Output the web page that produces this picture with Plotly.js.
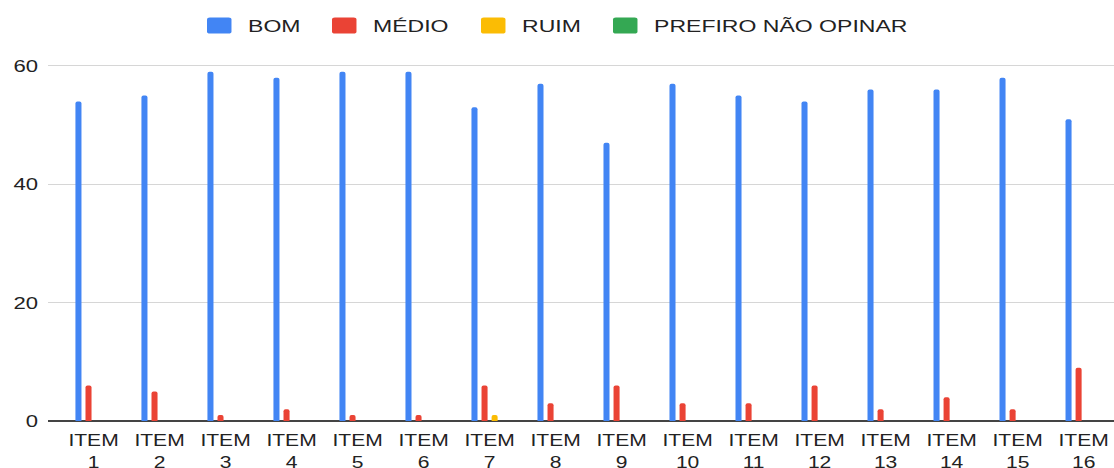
<!DOCTYPE html>
<html>
<head>
<meta charset="utf-8">
<script src="https://cdn.plot.ly/plotly-3.0.1.min.js"></script>
<style>html,body{margin:0;padding:0;background:#fff;}#chart{width:1114px;height:468px;}</style>
</head>
<body>
<div id="chart"></div>
<script>
const categories = ["ITEM<br>1","ITEM<br>2","ITEM<br>3","ITEM<br>4","ITEM<br>5","ITEM<br>6","ITEM<br>7","ITEM<br>8","ITEM<br>9","ITEM<br>10","ITEM<br>11","ITEM<br>12","ITEM<br>13","ITEM<br>14","ITEM<br>15","ITEM<br>16"];
const bom = [54,55,59,58,59,59,53,57,47,57,55,54,56,56,58,51];
const medio = [6,5,1,2,1,1,6,3,6,3,3,6,2,4,2,9];
const ruim = [0,0,0,0,0,0,1,0,0,0,0,0,0,0,0,0];
const prefiro = [0,0,0,0,0,0,0,0,0,0,0,0,0,0,0,0];
const seriesNames = ["BOM","MÉDIO","RUIM","PREFIRO NÃO OPINAR"];
const colors = ["#4285F4","#EA4335","#FBBC04","#34A853"];
const yTicks = [0, 20, 40, 60];

const data = [bom, medio, ruim, prefiro].map((vals, i) => ({
  type: "bar",
  name: seriesNames[i],
  x: categories.map((c, k) => k),
  y: vals,
  marker: {color: colors[i]},
  hoverinfo: "none"
}));

const layout = {
  width: 1114, height: 468,
  margin: {l: 48, r: 0, t: 60, b: 47},
  paper_bgcolor: "#fff", plot_bgcolor: "#fff",
  font: {family: "Arial, 'Liberation Sans', sans-serif", color: "#222", size: 17},
  barmode: "group",
  bargap: 0.39,
  bargroupgap: 0.4,
  barcornerradius: 2,
  showlegend: true,
  legend: {orientation: "h", x: 0.5, xanchor: "center", yref: "container", y: 0.985, yanchor: "top",
           font: {size: 16, color: "#222"}, itemwidth: 30},
  xaxis: {
    type: "linear",
    range: [-0.69, 15.46],
    tickmode: "array",
    tickvals: categories.map((c, k) => k),
    ticktext: categories,
    showgrid: false, zeroline: false, showline: false, ticks: "",
    tickfont: {size: 17, color: "#222"},
    ticklabelstandoff: 7,
    fixedrange: true
  },
  yaxis: {
    range: [0, 61],
    tickvals: yTicks,
    showgrid: true, gridcolor: "#d6d6d6", gridwidth: 1,
    zeroline: true, zerolinecolor: "#444", zerolinewidth: 1.5,
    showline: false, ticks: "",
    tickfont: {size: 17, color: "#222"},
    ticklabelstandoff: 9,
    fixedrange: true
  }
};

function stretchText(sel, s) {
  document.querySelectorAll(sel).forEach(t => {
    const ax = parseFloat(t.getAttribute("x")) || 0;
    const tr = t.getAttribute("transform") || "";
    t.setAttribute("transform", tr + ` translate(${ax},0) scale(${s},1) translate(${-ax},0)`);
  });
}

function parseTranslate(el) {
  const m = /translate\(\s*([-\d.e]+)(?:[ ,]+([-\d.e]+))?\s*\)/.exec(el.getAttribute("transform") || "");
  return m ? [parseFloat(m[1]), parseFloat(m[2] || 0)] : [0, 0];
}

Plotly.newPlot("chart", data, layout, {displayModeBar: false, staticPlot: true}).then(() => {
  stretchText("g.xtick text", 1.24);
  stretchText("g.ytick text", 1.3);
  document.querySelectorAll("g.legend g.legendpoints path").forEach(p => {
    p.setAttribute("d", "M-6.5,-8H6.5A2,2 0 0 1 8.5,-6V6A2,2 0 0 1 6.5,8H-6.5A2,2 0 0 1 -8.5,6V-6A2,2 0 0 1 -6.5,-8Z");
  });
  const lg = document.querySelector("g.legend");
  if (lg) {
    const s = 1.44;
    const svgR = lg.ownerSVGElement.getBoundingClientRect();
    lg.querySelectorAll("[clip-path]").forEach(e => e.removeAttribute("clip-path"));
    lg.removeAttribute("clip-path");
    const bg = lg.querySelector("rect.bg");
    if (bg) bg.setAttribute("width", 0);
    const [tx, ty] = parseTranslate(lg);
    // centre the stretched legend first
    let L = Infinity, R = -Infinity;
    lg.querySelectorAll(".legendtext, .legendpoints path").forEach(e => {
      const r = e.getBoundingClientRect();
      L = Math.min(L, r.left - svgR.left); R = Math.max(R, r.right - svgR.left);
    });
    const cx = (L + R) / 2 - tx;
    lg.setAttribute("transform", `translate(${560 - s * cx},${ty}) scale(${s},1)`);
    // place each entry so its swatch starts where the original's does
    const swatchLeft = [207, 332, 481, 613];
    for (let pass = 0; pass < 2; pass++) {
      lg.querySelectorAll("g.traces").forEach((g, i) => {
        const p = g.querySelector(".legendpoints path");
        if (!p || swatchLeft[i] === undefined) return;
        const r = p.getBoundingClientRect();
        const d = swatchLeft[i] - (r.left - svgR.left);
        const [gx, gy] = parseTranslate(g);
        g.setAttribute("transform", `translate(${gx + d / s},${gy})`);
      });
    }
    let T = Infinity, B = -Infinity;
    lg.querySelectorAll(".legendpoints path").forEach(e => {
      const r = e.getBoundingClientRect();
      T = Math.min(T, r.top - svgR.top); B = Math.max(B, r.bottom - svgR.top);
    });
    const [tx2, ty2] = parseTranslate(lg);
    lg.setAttribute("transform", `translate(${tx2},${ty2 + (25.5 - (T + B) / 2)}) scale(${s},1)`);
  }
});
</script>
</body>
</html>
